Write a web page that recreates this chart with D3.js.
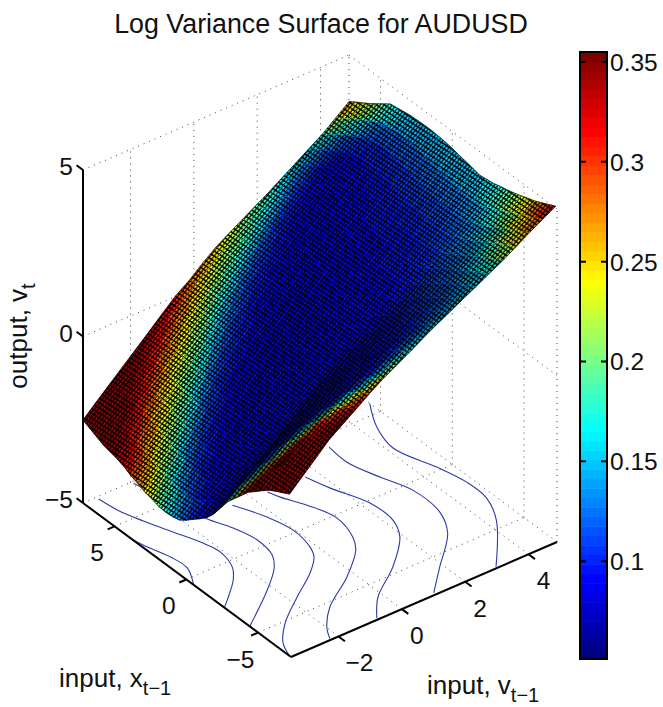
<!DOCTYPE html>
<meta charset="utf-8">
<style>
body { margin: 0; background: #fff; }
text { font-family: "Liberation Sans", Arial, sans-serif; fill: #111; }
</style>
<body></body>
<script src="https://d3js.org/d3.v7.min.js"></script>
<script>
// grid positions
var xGrid = [-7.2,-6.72,-6.24,-5.76,-5.28,-4.8,-4.32,-3.84,-3.36,-2.88,-2.4,-1.92,-1.44,-0.96,-0.48,0,0.48,0.96,1.44,1.92,2.4,2.88,3.36,3.84,4.32,4.8,5.28,5.76,6.24,6.72,7.2];
var vGrid = [-3.5,-3.08,-2.66,-2.24,-1.82,-1.4,-0.98,-0.56,-0.14,0.28,0.7,1.12,1.54,1.96,2.38,2.8,3.22,3.64,4.06,4.48,4.9];

// output height, one row per xGrid value
var zGrid = [
[-.14,.24,.61,.99,1.27,1.55,1.84,2.1,2.33,2.56,2.8,3.03,3.24,3.46,3.67,3.89,4.1,4.34,4.59,4.82,5.05],
[-.25,.18,.52,.87,1.15,1.42,1.7,1.96,2.2,2.43,2.66,2.89,3.1,3.32,3.54,3.76,3.98,4.23,4.48,4.71,4.95],
[-.36,.11,.44,.74,1.04,1.3,1.56,1.82,2.07,2.3,2.52,2.74,2.97,3.19,3.4,3.63,3.87,4.11,4.36,4.61,4.85],
[-.48,.05,.35,.62,.92,1.17,1.42,1.68,1.94,2.17,2.38,2.6,2.83,3.05,3.27,3.5,3.75,4,4.25,4.5,4.75],
[-.65,-.19,.12,.41,.7,.96,1.22,1.48,1.74,1.98,2.21,2.43,2.67,2.9,3.13,3.37,3.62,3.87,4.12,4.39,4.68],
[-.83,-.44,-.12,.19,.49,.75,1.01,1.28,1.54,1.79,2.03,2.27,2.51,2.75,2.99,3.23,3.48,3.73,3.99,4.28,4.6],
[-1,-.68,-.35,-.02,.27,.54,.81,1.08,1.34,1.6,1.86,2.1,2.35,2.6,2.85,3.1,3.35,3.6,3.86,4.17,4.53],
[-1.25,-.93,-.61,-.29,0,.28,.55,.83,1.1,1.37,1.64,1.89,2.15,2.42,2.68,2.96,3.23,3.49,3.76,4.07,4.47],
[-1.5,-1.18,-.86,-.55,-.27,.01,.29,.58,.86,1.15,1.42,1.69,1.96,2.23,2.52,2.81,3.1,3.39,3.67,3.97,4.42],
[-1.75,-1.43,-1.12,-.82,-.54,-.25,.03,.33,.62,.92,1.2,1.48,1.76,2.05,2.35,2.67,2.98,3.28,3.57,3.87,4.36],
[-2.08,-1.78,-1.45,-1.15,-.86,-.56,-.24,.08,.39,.7,1,1.3,1.61,1.92,2.25,2.58,2.91,3.23,3.53,3.85,4.33],
[-2.42,-2.13,-1.79,-1.49,-1.19,-.87,-.52,-.18,.15,.47,.8,1.13,1.46,1.79,2.14,2.49,2.85,3.18,3.5,3.83,4.3],
[-2.68,-2.32,-1.97,-1.65,-1.33,-1.02,-.66,-.3,.05,.4,.74,1.08,1.43,1.78,2.13,2.48,2.84,3.18,3.52,3.87,4.35],
[-2.87,-2.5,-2.15,-1.81,-1.47,-1.16,-.8,-.42,-.04,.32,.68,1.04,1.4,1.77,2.13,2.48,2.83,3.19,3.55,3.92,4.4],
[-3.04,-2.65,-2.28,-1.91,-1.56,-1.22,-.85,-.46,-.06,.31,.67,1.03,1.4,1.79,2.15,2.51,2.86,3.23,3.59,3.96,4.44],
[-3.22,-2.79,-2.41,-2.02,-1.64,-1.29,-.91,-.49,-.08,.29,.65,1.01,1.41,1.8,2.18,2.53,2.9,3.26,3.62,4,4.49],
[-3.37,-2.94,-2.53,-2.12,-1.73,-1.35,-.96,-.53,-.1,.28,.64,1,1.41,1.82,2.2,2.56,2.93,3.3,3.66,4.04,4.53],
[-3.42,-2.92,-2.49,-2.08,-1.68,-1.28,-.88,-.45,-.02,.37,.75,1.14,1.55,1.96,2.32,2.66,3.02,3.38,3.73,4.11,4.55],
[-3.44,-2.9,-2.45,-2.03,-1.62,-1.21,-.8,-.37,.06,.45,.85,1.27,1.69,2.09,2.43,2.76,3.1,3.45,3.8,4.17,4.57],
[-3.42,-2.85,-2.38,-1.95,-1.53,-1.11,-.69,-.25,.17,.56,.96,1.36,1.77,2.15,2.49,2.83,3.16,3.5,3.84,4.19,4.57],
[-3.35,-2.8,-2.32,-1.87,-1.45,-1.02,-.58,-.13,.28,.68,1.07,1.46,1.85,2.22,2.56,2.89,3.23,3.56,3.89,4.22,4.56],
[-3.3,-2.75,-2.25,-1.79,-1.36,-.92,-.47,-.01,.39,.79,1.18,1.55,1.93,2.28,2.62,2.96,3.29,3.61,3.93,4.24,4.55],
[-3.2,-2.65,-2.14,-1.71,-1.3,-.88,-.43,.02,.41,.8,1.17,1.53,1.89,2.23,2.58,2.93,3.25,3.57,3.88,4.18,4.52],
[-3.12,-2.56,-2.03,-1.63,-1.25,-.83,-.39,.05,.42,.8,1.16,1.5,1.84,2.19,2.54,2.9,3.22,3.52,3.82,4.13,4.48],
[-3,-2.46,-1.92,-1.56,-1.19,-.79,-.35,.08,.44,.81,1.15,1.48,1.8,2.14,2.5,2.87,3.18,3.48,3.77,4.07,4.45],
[-2.92,-2.37,-1.85,-1.5,-1.13,-.74,-.32,.09,.44,.79,1.12,1.44,1.74,2.06,2.4,2.75,3.05,3.35,3.65,3.95,4.3],
[-2.86,-2.29,-1.79,-1.43,-1.08,-.69,-.28,.1,.43,.77,1.1,1.39,1.69,1.99,2.3,2.62,2.93,3.23,3.53,3.83,4.15],
[-2.81,-2.2,-1.72,-1.37,-1.02,-.64,-.25,.11,.43,.75,1.07,1.35,1.63,1.91,2.2,2.5,2.8,3.1,3.4,3.7,4],
[-2.71,-2.18,-1.74,-1.39,-1.03,-.66,-.28,.08,.39,.72,1.03,1.3,1.57,1.84,2.11,2.4,2.68,2.97,3.26,3.56,3.87],
[-2.61,-2.16,-1.76,-1.4,-1.05,-.68,-.3,.06,.35,.68,1,1.26,1.51,1.76,2.02,2.29,2.57,2.84,3.11,3.42,3.74],
[-2.51,-2.14,-1.78,-1.42,-1.06,-.7,-.33,.03,.31,.65,.96,1.21,1.45,1.69,1.93,2.19,2.45,2.71,2.97,3.28,3.6]
];

// colour value (the colorbar quantity), same layout as zGrid
var cGrid = [
[.35,.35,.35,.35,.35,.33,.295,.255,.22,.19,.175,.165,.16,.155,.155,.17,.2,.24,.275,.305,.33],
[.35,.35,.35,.35,.345,.315,.255,.19,.16,.15,.14,.135,.135,.14,.148,.16,.19,.225,.258,.285,.315],
[.35,.35,.35,.345,.325,.27,.185,.125,.105,.105,.108,.115,.122,.13,.14,.155,.18,.21,.24,.265,.295],
[.35,.35,.35,.335,.28,.195,.125,.094,.094,.097,.1,.105,.112,.12,.13,.144,.165,.19,.215,.245,.27],
[.35,.35,.34,.295,.21,.13,.094,.09,.092,.094,.097,.1,.106,.113,.122,.134,.15,.17,.195,.222,.248],
[.35,.35,.305,.23,.14,.097,.088,.089,.091,.093,.096,.098,.104,.11,.118,.128,.14,.155,.175,.205,.23],
[.35,.31,.245,.15,.1,.09,.086,.088,.09,.092,.094,.097,.1,.107,.114,.122,.132,.145,.162,.19,.215],
[.32,.255,.165,.108,.09,.083,.085,.087,.089,.091,.093,.096,.098,.104,.11,.118,.126,.136,.15,.175,.2],
[.27,.18,.115,.09,.083,.083,.084,.086,.088,.09,.092,.094,.097,.1,.105,.112,.12,.128,.14,.162,.185],
[.195,.125,.092,.083,.082,.083,.084,.085,.087,.089,.091,.093,.095,.097,.1,.106,.113,.12,.13,.152,.172],
[.13,.095,.084,.082,.082,.083,.084,.084,.085,.087,.089,.091,.093,.095,.098,.101,.107,.114,.125,.145,.165],
[.1,.086,.082,.081,.082,.082,.083,.083,.084,.085,.087,.089,.091,.093,.096,.099,.103,.11,.12,.14,.16],
[.09,.084,.082,.081,.081,.082,.082,.083,.083,.084,.085,.087,.089,.091,.094,.097,.1,.108,.118,.137,.158],
[.095,.086,.082,.081,.081,.081,.081,.082,.082,.083,.084,.086,.088,.09,.093,.096,.099,.106,.116,.135,.157],
[.105,.09,.083,.08,.08,.08,.08,.08,.081,.082,.084,.085,.087,.09,.093,.095,.098,.104,.114,.134,.155],
[.125,.1,.088,.082,.08,.08,.08,.08,.08,.081,.082,.084,.086,.088,.091,.094,.097,.103,.113,.133,.155],
[.14,.11,.095,.088,.083,.082,.08,.08,.08,.08,.081,.084,.086,.088,.09,.093,.096,.102,.112,.132,.155],
[.16,.125,.105,.095,.088,.083,.082,.08,.08,.08,.082,.084,.086,.088,.09,.093,.096,.1,.11,.13,.156],
[.18,.145,.115,.1,.095,.088,.085,.083,.082,.082,.082,.084,.085,.087,.09,.093,.096,.1,.11,.13,.157],
[.205,.175,.14,.115,.1,.095,.088,.085,.083,.083,.083,.083,.085,.087,.09,.092,.095,.098,.108,.13,.158],
[.23,.2,.17,.14,.115,.103,.097,.09,.088,.085,.085,.085,.085,.087,.088,.09,.093,.096,.105,.13,.16],
[.26,.225,.2,.17,.145,.115,.105,.1,.092,.088,.088,.088,.088,.088,.09,.09,.092,.096,.105,.13,.165],
[.285,.255,.22,.2,.17,.145,.12,.105,.1,.095,.092,.088,.088,.088,.088,.088,.09,.095,.105,.135,.17],
[.31,.275,.25,.22,.2,.175,.15,.13,.11,.1,.095,.092,.088,.088,.088,.088,.09,.095,.105,.14,.18],
[.33,.305,.27,.25,.22,.2,.18,.155,.13,.115,.105,.1,.095,.088,.088,.088,.09,.095,.11,.15,.195],
[.35,.325,.3,.27,.245,.22,.205,.185,.16,.14,.12,.11,.1,.095,.095,.088,.09,.095,.12,.165,.21],
[.35,.345,.32,.3,.27,.25,.225,.21,.19,.17,.15,.135,.115,.105,.1,.095,.095,.1,.13,.18,.225],
[.35,.35,.345,.32,.3,.275,.255,.235,.215,.195,.18,.16,.145,.13,.115,.105,.105,.115,.145,.195,.24],
[.35,.35,.35,.34,.32,.305,.28,.26,.24,.22,.2,.19,.175,.155,.14,.125,.125,.13,.16,.21,.255],
[.35,.35,.35,.35,.345,.325,.31,.285,.265,.245,.225,.205,.19,.175,.165,.15,.145,.145,.175,.225,.27],
[.35,.35,.35,.35,.35,.345,.33,.315,.29,.27,.255,.235,.215,.2,.18,.165,.155,.16,.19,.24,.29]
];

// floor contours of the output, one x list and one v list per level
var contourLevels = [-3,-2,-1,0,1,2,3,4];
var contourX = [
[3.77,2.92,1.74,0.65,-0.51],
[7.03,5.88,4.57,3.14,1.86,0.75,-0.45,-1.24,-2.28,-2.65],
[7.08,3.15,1.85,0.52,-0.76,-1.58,-2.71,-4.42],
[3.23,1.63,0.19,-1.26,-1.95,-2.8,-3.89,-5.13,-6.26,-7.2],
[3.11,2.48,1.31,-0.23,-1.76,-2.61,-3.98,-5.33,-6.44,-7.2],
[3.03,1.73,-0.18,-1.78,-2.97,-4.57,-5.97,-7.19],
[4.19,2.84,1.11,-0.51,-2.51,-3.96,-5.77,-7.16],
[5.76,4.15,2.5,0.24,-1.42,-2.88,-4.44,-7.2]
];
var contourV = [
[-3.5,-3.4,-3.21,-3.17,-3.5],
[-3.08,-3,-2.78,-2.48,-2.21,-2.08,-2.25,-2.58,-3.24,-3.5],
[-1.96,-1.47,-1.18,-1.02,-1.13,-1.44,-2.17,-3.5],
[-0.58,-0.21,-0.04,-0.16,-0.35,-0.86,-1.76,-2.7,-3.28,-3.5],
[0.47,0.59,0.91,1.16,0.96,0.67,-0.23,-1.38,-1.98,-2.23],
[1.63,1.83,2.22,2.22,1.9,0.95,-0.15,-0.74],
[2.91,2.86,3.12,3.42,3.37,2.96,1.89,1.07],
[4.9,4.4,4.16,4.52,4.71,4.68,4.28,3.02]
];

var xTicks = [-5,0,5];
var vTicks = [-2,0,2,4];
var zTicks = [-5,0,5];
var cTicks = [0.1,0.15,0.2,0.25,0.3,0.35];

var width = 663, height = 707;
var xlim = [-7.3,7.2], vlim = [-3.5,4.9], zlim = [-5,5];

// fixed orthographic view: each data axis moves the point along its own screen direction
var xPx = d3.scaleLinear().domain(xlim).range([0,-208]);
var xPy = d3.scaleLinear().domain(xlim).range([0,-154]);
var vPx = d3.scaleLinear().domain(vlim).range([0,266]);
var vPy = d3.scaleLinear().domain(vlim).range([0,-115]);
var zPy = d3.scaleLinear().domain(zlim).range([0,-333]);

function project(x, v, z) {
  return [291 + xPx(x) + vPx(v), 657 + xPy(x) + vPy(v) + zPy(z)];
}

var cScale = d3.scaleLinear().domain([0.051,0.355]).range([0,1]).clamp(true);

function jet(t) {
  // 64 step colormap
  t = Math.floor(Math.min(t, 0.9999) * 64) / 63;
  var f = function (a) { return Math.round(255 * Math.max(0, Math.min(1, 1.5 - Math.abs(4 * t - a)))); };
  return "rgb(" + f(3) + "," + f(2) + "," + f(1) + ")";
}

var svg = d3.select("body").append("svg")
    .attr("width", width)
    .attr("height", height);

// fine mesh texture laid over the surface
svg.append("defs").append("pattern")
    .attr("id", "mesh")
    .attr("patternUnits", "userSpaceOnUse")
    .attr("width", 10)
    .attr("height", 10)
    .attr("patternTransform", "matrix(.267,-.33,.26,.17,0,0)")
  .append("path")
    .attr("d", "M0 0H10M0 10H10M0 0V10M10 0V10")
    .attr("fill", "none")
    .attr("stroke", "#000")
    .attr("stroke-width", 3.6);

var line3d = d3.line();

function seg(a, b) { return line3d([project(a[0], a[1], a[2]), project(b[0], b[1], b[2])]); }

// dotted grid and box
var grid = svg.append("g")
    .attr("fill", "none")
    .attr("stroke", "#444")
    .attr("stroke-width", 1)
    .attr("stroke-dasharray", "1 5");

var segs = [];
xTicks.forEach(function (t) {
  segs.push([[t,vlim[0],zlim[0]],[t,vlim[1],zlim[0]]]);
  segs.push([[t,vlim[1],zlim[0]],[t,vlim[1],zlim[1]]]);
});
vTicks.forEach(function (t) {
  segs.push([[xlim[0],t,zlim[0]],[xlim[1],t,zlim[0]]]);
  segs.push([[xlim[1],t,zlim[0]],[xlim[1],t,zlim[1]]]);
});
zTicks.forEach(function (t) {
  segs.push([[xlim[1],vlim[0],t],[xlim[1],vlim[1],t]]);
  segs.push([[xlim[1],vlim[1],t],[xlim[0],vlim[1],t]]);
});
segs.push([[xlim[1],vlim[1],zlim[0]],[xlim[1],vlim[1],zlim[1]]]);
segs.push([[xlim[0],vlim[1],zlim[0]],[xlim[0],vlim[1],zlim[1]]]);

grid.selectAll("path").data(segs).enter().append("path")
    .attr("d", function (d) { return seg(d[0], d[1]); });

// contours on the floor
var contourLine = d3.line().curve(d3.curveCatmullRom);
svg.append("g")
    .attr("fill", "none")
    .attr("stroke", "#2d3aa8")
    .attr("stroke-width", 1.1)
  .selectAll("path").data(contourLevels).enter().append("path")
    .attr("d", function (d, k) {
      return contourLine(contourX[k].map(function (x, m) { return project(x, contourV[k][m], zlim[0]); }));
    });

// surface, painted from the back corner to the front
var surface = svg.append("g");
var polyPath = function (pts) { return "M" + pts.map(function (p) { return p[0].toFixed(2) + "," + p[1].toFixed(2); }).join("L") + "Z"; };
var refArea = 175;

for (var i = xGrid.length - 2; i >= 0; i--) {
  for (var j = vGrid.length - 2; j >= 0; j--) {
    var p00 = project(xGrid[i], vGrid[j], zGrid[i][j]),
        p01 = project(xGrid[i], vGrid[j + 1], zGrid[i][j + 1]),
        p10 = project(xGrid[i + 1], vGrid[j], zGrid[i + 1][j]),
        p11 = project(xGrid[i + 1], vGrid[j + 1], zGrid[i + 1][j + 1]);
    var c00 = cGrid[i][j], c01 = cGrid[i][j + 1], c10 = cGrid[i + 1][j], c11 = cGrid[i + 1][j + 1];

    // mesh lines crowd together where the surface is seen nearly edge on
    var area = Math.abs((p11[0] - p00[0]) * (p01[1] - p10[1]) - (p11[1] - p00[1]) * (p01[0] - p10[0])) / 2;
    var dark = Math.max(0, Math.min(0.9, 1 - (area / refArea) / 0.75));

    // split along the direction the colour bands run
    var tris = xGrid[i] >= 0
      ? [[[p00, p11, p10], (c00 + c11 + c10) / 3], [[p00, p01, p11], (c00 + c01 + c11) / 3]]
      : [[[p00, p01, p10], (c00 + c01 + c10) / 3], [[p01, p11, p10], (c01 + c11 + c10) / 3]];

    tris.forEach(function (tr) {
      var col = d3.interpolateRgb(jet(cScale(tr[1])), "#000")(dark);
      surface.append("path")
          .attr("d", polyPath(tr[0]))
          .attr("fill", col)
          .attr("stroke", col)
          .attr("stroke-width", 0.6);
    });
    surface.append("path")
        .attr("d", polyPath([p00, p01, p11, p10]))
        .attr("fill", "url(#mesh)");
  }
}

// surface outline
var rim = d3.line();
var rims = [
  vGrid.map(function (v, j) { return project(xGrid[0], v, zGrid[0][j]); }),
  vGrid.map(function (v, j) { return project(xGrid[30], v, zGrid[30][j]); }),
  xGrid.map(function (x, i) { return project(x, vGrid[0], zGrid[i][0]); }),
  xGrid.map(function (x, i) { return project(x, vGrid[20], zGrid[i][20]); })
];
svg.append("g").selectAll("path").data(rims).enter().append("path")
    .attr("d", rim)
    .attr("fill", "none")
    .attr("stroke", "#111")
    .attr("stroke-width", 0.7);

// solid axes
var axes = svg.append("g")
    .attr("fill", "none")
    .attr("stroke", "#000")
    .attr("stroke-width", 2);
axes.append("path").attr("d", seg([xlim[1],vlim[0],zlim[0]],[xlim[1],vlim[0],zlim[1]]));
axes.append("path").attr("d", seg([xlim[1],vlim[0],zlim[0]],[xlim[0],vlim[0],zlim[0]]));
axes.append("path").attr("d", seg([xlim[0],vlim[0],zlim[0]],[xlim[0],vlim[1],zlim[0]]));

var tickFont = 24.5;

function label(x, y, str, anchor) {
  return svg.append("text")
      .attr("x", x).attr("y", y)
      .attr("text-anchor", anchor || "middle")
      .attr("font-size", tickFont)
      .text(str);
}
function fmt(t) { return String(t).replace("-", "\u2212"); }

zTicks.forEach(function (t) {
  axes.append("path").attr("d", seg([xlim[1],vlim[0],t],[xlim[1] + 0.45,vlim[0],t]));
  var p = project(xlim[1], vlim[0], t);
  label(p[0] - 10, p[1] + 5, fmt(t), "end");
});
xTicks.forEach(function (t) {
  axes.append("path").attr("d", seg([t,vlim[0],zlim[0]],[t,vlim[0] - 0.22,zlim[0]]));
  var p = project(t, vlim[0], zlim[0]);
  label(p[0] - 17.5, p[1] + 35, fmt(t));
});
vTicks.forEach(function (t) {
  axes.append("path").attr("d", seg([xlim[0],t,zlim[0]],[xlim[0] - 0.45,t,zlim[0]]));
  var p = project(xlim[0], t, zlim[0]);
  label(p[0] + 15 + (t < 0 ? 6 : 0), p[1] + 35, fmt(t));
});

// titles
svg.append("text")
    .attr("x", 321).attr("y", 33)
    .attr("text-anchor", "middle")
    .attr("font-size", 26.8)
    .text("Log Variance Surface for AUDUSD");

function subLabel(x, y, main, sub, rotate) {
  var t = svg.append("text")
      .attr("x", x).attr("y", y)
      .attr("font-size", 26);
  if (rotate) t.attr("text-anchor", "middle").attr("transform", "rotate(-90 " + x + " " + y + ")");
  t.append("tspan").text(main);
  t.append("tspan").attr("dy", 8).attr("font-size", 20).text(sub);
}
subLabel(59, 687, "input, x", "t\u22121");
subLabel(427, 694, "input, v", "t\u22121");
subLabel(27, 336, "output, v", "t", true);

// colorbar
var barTop = 52, barBottom = 659, barLeft = 580, barRight = 607;
var barScale = d3.scaleLinear().domain([0.051,0.355]).range([barBottom,barTop]);
var steps = d3.range(64);
var stepH = (barBottom - barTop) / 64;
svg.append("g").selectAll("rect").data(steps).enter().append("rect")
    .attr("x", barLeft)
    .attr("y", function (d) { return barBottom - (d + 1) * stepH; })
    .attr("width", barRight - barLeft)
    .attr("height", stepH + 0.5)
    .attr("fill", function (d) { return jet((d + 0.5) / 64); });
svg.append("rect")
    .attr("x", barLeft).attr("y", barTop)
    .attr("width", barRight - barLeft).attr("height", barBottom - barTop)
    .attr("fill", "none").attr("stroke", "#000").attr("stroke-width", 2);
cTicks.forEach(function (t) {
  var y = barScale(t);
  svg.append("path").attr("d", "M" + barLeft + "," + y + "h6M" + barRight + "," + y + "h-6")
      .attr("stroke", "#000").attr("stroke-width", 2).attr("fill", "none");
  label(barRight + 3, y + 9, String(t), "start");
});
</script>
